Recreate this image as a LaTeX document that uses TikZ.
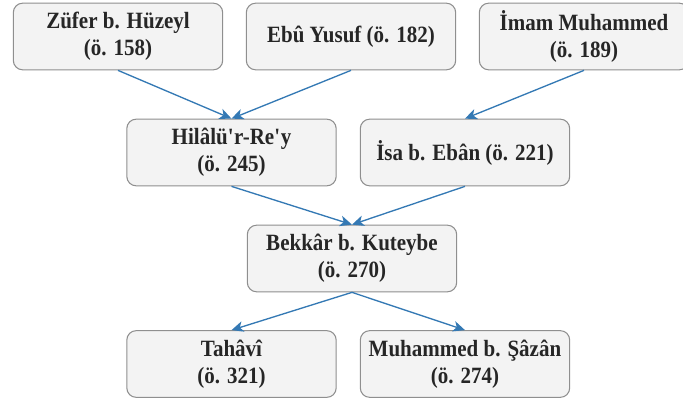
\documentclass[tikz,border=0pt]{standalone}
\usepackage{fontspec}
\setmainfont[FakeStretch=0.9]{Liberation Serif}
\usetikzlibrary{arrows.meta}

\definecolor{boxfill}{HTML}{F3F3F3}
\definecolor{boxline}{HTML}{8F8F8F}
\definecolor{arrowblue}{HTML}{3479B4}
\definecolor{textgray}{HTML}{262626}

\begin{document}
\begin{tikzpicture}[x=0.75pt,y=-0.75pt,
  kisi/.style={draw=boxline,fill=boxfill,rounded corners=7pt,line width=0.8pt,
    minimum width=157pt,minimum height=50pt,align=center,text=textgray,
    font=\fontsize{17.5}{20.5}\selectfont\bfseries},
  ok/.style={draw=arrowblue,line width=1pt,-{Stealth[length=9pt,width=8pt,inset=2.5pt]}}]
\useasboundingbox (0,0) rectangle (683,403);

\node[kisi] (zufer) at (118,36.5) {Züfer b. Hüzeyl\\(ö. 158)};
\node[kisi] (ebuyusuf) at (351,36.5) {Ebû Yusuf (ö. 182)};
\node[kisi] (imam) at (584,36.5) {İmam Muhammed\\(ö. 189)};

\node[kisi] (hilal) at (231.5,152.5) {Hilâlü\textquotesingle r-Re\textquotesingle y\\(ö. 245)};
\node[kisi] (isa) at (465,152.5) {İsa b. Ebân (ö. 221)};

\node[kisi] (bekkar) at (352,258.5) {Bekkâr b. Kuteybe\\(ö. 270)};

\node[kisi] (tahavi) at (231.5,364) {Tahâvî\\(ö. 321)};
\node[kisi] (sazan) at (465,364) {Muhammed b. Şâzân\\(ö. 274)};

\draw[ok] (zufer.south) -- (hilal.north);
\draw[ok] (ebuyusuf.south) -- (hilal.north);
\draw[ok] (imam.south) -- (isa.north);
\draw[ok] (hilal.south) -- (bekkar.north);
\draw[ok] (isa.south) -- (bekkar.north);
\draw[ok] (bekkar.south) -- (tahavi.north);
\draw[ok] (bekkar.south) -- (sazan.north);
\end{tikzpicture}
\end{document}
